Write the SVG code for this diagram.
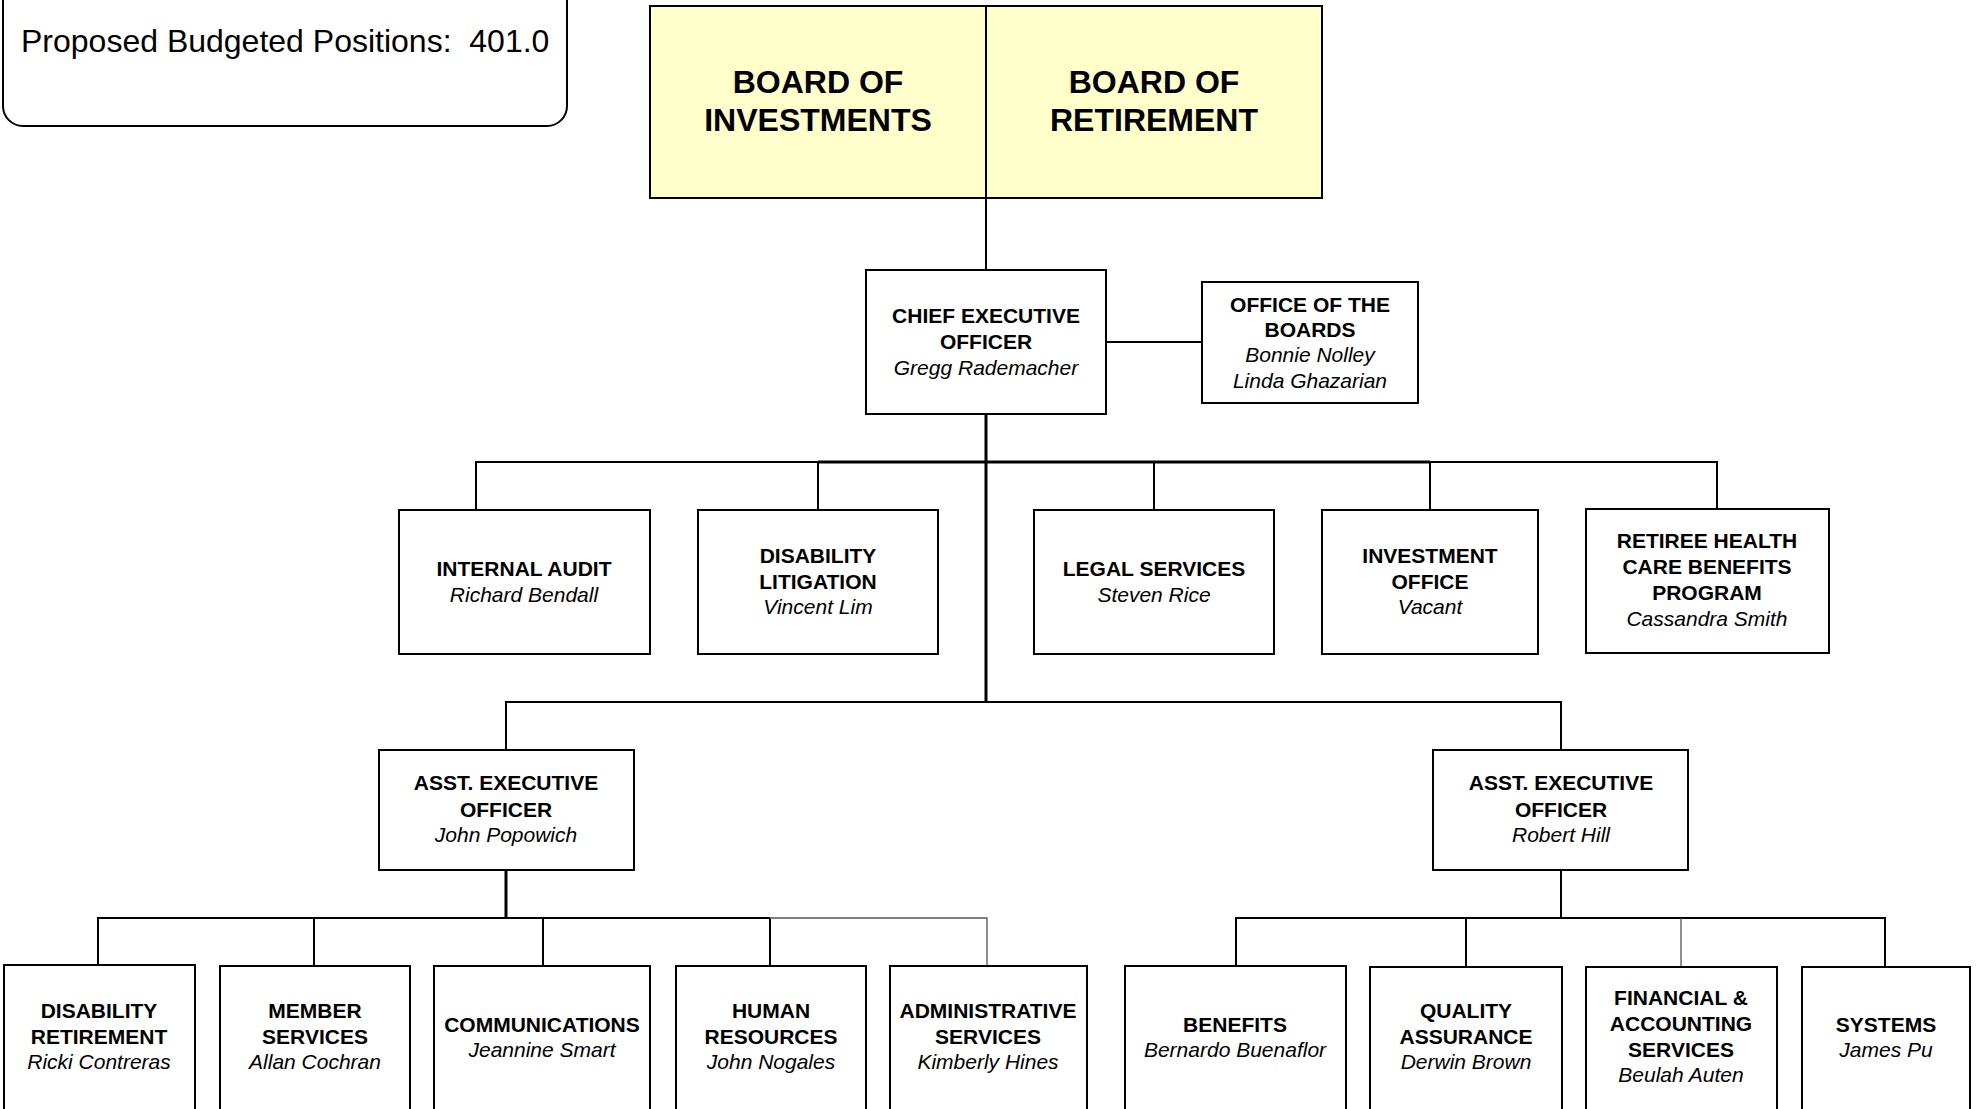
<svg xmlns="http://www.w3.org/2000/svg" width="1980" height="1109" viewBox="0 0 1980 1109">
<style>
.bx{fill:#fff;stroke:#000;stroke-width:2}
.yl{fill:#FFFFCC;stroke:#000;stroke-width:2}
.b{font-family:"Liberation Sans",Arial,sans-serif;font-weight:bold;font-size:21px;text-anchor:middle;fill:#000}
.i{font-family:"Liberation Sans",Arial,sans-serif;font-style:italic;font-size:21px;text-anchor:middle;fill:#000}
.big{font-family:"Liberation Sans",Arial,sans-serif;font-weight:bold;font-size:32px;text-anchor:middle;fill:#000}
.c{fill:none;stroke:#000;stroke-width:2}
.ct{fill:none;stroke:#000;stroke-width:3}
.cg{fill:none;stroke:#555;stroke-width:1.3}
</style>
<rect width="1980" height="1109" fill="#fff"/>
<g id="connectors">
<path class="c" d="M986 198V270"/>
<path class="c" d="M1106 342H1202"/>
<path class="ct" d="M986 414V702"/>
<path class="c" d="M476 510V462H1717V510"/>
<path class="ct" d="M818 462H1430"/>
<path class="c" d="M818 462V510M1154 462V510M1430 462V510"/>
<path class="c" d="M506 750V702H1561V750"/>
<path class="ct" d="M506 870V918"/>
<path class="c" d="M98 965V918H770"/>
<path class="c" d="M314 918V965M543 918V965M770 918V965"/>
<path class="cg" d="M770 918H987V965"/>
<path class="c" d="M1561 870V918"/>
<path class="c" d="M1236 966V918H1885V966M1466 918V966"/>
<path class="cg" d="M1681 918V966"/>
</g>
<g id="positions">
<rect x="3" y="-30" width="564" height="156" rx="20" fill="#fff" stroke="#000" stroke-width="2"/>
<text x="21" y="52" font-family="'Liberation Sans',Arial,sans-serif" font-size="32" xml:space="preserve">Proposed Budgeted Positions:  401.0</text>
</g>
<g id="boards">
<rect class="yl" x="650" y="6" width="672" height="192"/>
<path class="c" d="M986 6V198"/>
<text class="big" x="818" y="93">BOARD OF</text>
<text class="big" x="818" y="131">INVESTMENTS</text>
<text class="big" x="1154" y="93">BOARD OF</text>
<text class="big" x="1154" y="131">RETIREMENT</text>
</g>
<g id="ceo">
<rect class="bx" x="866" y="270" width="240" height="144"/>
<text class="b" x="986" y="323">CHIEF EXECUTIVE</text>
<text class="b" x="986" y="349">OFFICER</text>
<text class="i" x="986" y="375">Gregg Rademacher</text>
</g>
<g id="office-boards">
<rect class="bx" x="1202" y="282" width="216" height="121"/>
<text class="b" x="1310" y="312">OFFICE OF THE</text>
<text class="b" x="1310" y="337">BOARDS</text>
<text class="i" x="1310" y="362">Bonnie Nolley</text>
<text class="i" x="1310" y="388">Linda Ghazarian</text>
</g>
<g id="internal-audit">
<rect class="bx" x="399" y="510" width="251" height="144"/>
<text class="b" x="524" y="576">INTERNAL AUDIT</text>
<text class="i" x="524" y="602">Richard Bendall</text>
</g>
<g id="disability-litigation">
<rect class="bx" x="698" y="510" width="240" height="144"/>
<text class="b" x="818" y="563">DISABILITY</text>
<text class="b" x="818" y="589">LITIGATION</text>
<text class="i" x="818" y="614">Vincent Lim</text>
</g>
<g id="legal-services">
<rect class="bx" x="1034" y="510" width="240" height="144"/>
<text class="b" x="1154" y="576">LEGAL SERVICES</text>
<text class="i" x="1154" y="602">Steven Rice</text>
</g>
<g id="investment-office">
<rect class="bx" x="1322" y="510" width="216" height="144"/>
<text class="b" x="1430" y="563">INVESTMENT</text>
<text class="b" x="1430" y="589">OFFICE</text>
<text class="i" x="1430" y="614">Vacant</text>
</g>
<g id="retiree-health">
<rect class="bx" x="1586" y="509" width="243" height="144"/>
<text class="b" x="1707" y="548">RETIREE HEALTH</text>
<text class="b" x="1707" y="574">CARE BENEFITS</text>
<text class="b" x="1707" y="600">PROGRAM</text>
<text class="i" x="1707" y="626">Cassandra Smith</text>
</g>
<g id="aeo-popowich">
<rect class="bx" x="379" y="750" width="255" height="120"/>
<text class="b" x="506" y="790">ASST. EXECUTIVE</text>
<text class="b" x="506" y="817">OFFICER</text>
<text class="i" x="506" y="842">John Popowich</text>
</g>
<g id="aeo-hill">
<rect class="bx" x="1433" y="750" width="255" height="120"/>
<text class="b" x="1561" y="790">ASST. EXECUTIVE</text>
<text class="b" x="1561" y="817">OFFICER</text>
<text class="i" x="1561" y="842">Robert Hill</text>
</g>
<g id="disability-retirement">
<rect class="bx" x="4" y="965" width="191" height="160"/>
<text class="b" x="99" y="1018">DISABILITY</text>
<text class="b" x="99" y="1044">RETIREMENT</text>
<text class="i" x="99" y="1069">Ricki Contreras</text>
</g>
<g id="member-services">
<rect class="bx" x="220" y="966" width="190" height="160"/>
<text class="b" x="315" y="1018">MEMBER</text>
<text class="b" x="315" y="1044">SERVICES</text>
<text class="i" x="315" y="1069">Allan Cochran</text>
</g>
<g id="communications">
<rect class="bx" x="434" y="966" width="216" height="160"/>
<text class="b" x="542" y="1032">COMMUNICATIONS</text>
<text class="i" x="542" y="1057">Jeannine Smart</text>
</g>
<g id="human-resources">
<rect class="bx" x="676" y="966" width="190" height="160"/>
<text class="b" x="771" y="1018">HUMAN</text>
<text class="b" x="771" y="1044">RESOURCES</text>
<text class="i" x="771" y="1069">John Nogales</text>
</g>
<g id="administrative-services">
<rect class="bx" x="890" y="966" width="197" height="160"/>
<text class="b" x="988" y="1018">ADMINISTRATIVE</text>
<text class="b" x="988" y="1044">SERVICES</text>
<text class="i" x="988" y="1069">Kimberly Hines</text>
</g>
<g id="benefits">
<rect class="bx" x="1125" y="966" width="221" height="160"/>
<text class="b" x="1235" y="1032">BENEFITS</text>
<text class="i" x="1235" y="1057">Bernardo Buenaflor</text>
</g>
<g id="quality-assurance">
<rect class="bx" x="1370" y="967" width="192" height="160"/>
<text class="b" x="1466" y="1018">QUALITY</text>
<text class="b" x="1466" y="1044">ASSURANCE</text>
<text class="i" x="1466" y="1069">Derwin Brown</text>
</g>
<g id="financial-accounting">
<rect class="bx" x="1586" y="967" width="191" height="160"/>
<text class="b" x="1681" y="1005">FINANCIAL &amp;</text>
<text class="b" x="1681" y="1031">ACCOUNTING</text>
<text class="b" x="1681" y="1057">SERVICES</text>
<text class="i" x="1681" y="1082">Beulah Auten</text>
</g>
<g id="systems">
<rect class="bx" x="1802" y="967" width="168" height="160"/>
<text class="b" x="1886" y="1032">SYSTEMS</text>
<text class="i" x="1886" y="1057">James Pu</text>
</g>
</svg>
